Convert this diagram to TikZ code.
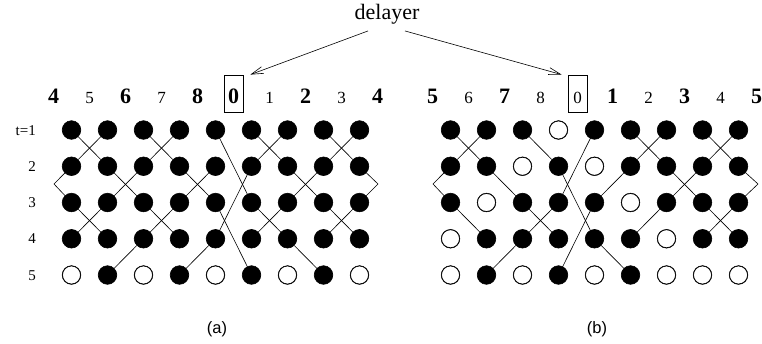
\documentclass[tikz,border=0pt]{standalone}
\usepackage{fontspec}
\setmainfont{Liberation Serif}
\setsansfont{Liberation Sans}
\usetikzlibrary{arrows.meta}
\begin{document}
\begin{tikzpicture}[x=1pt,y=-1pt,
  dot/.style={circle,fill=black,draw=black,line width=0.6pt,minimum size=18.6pt,inner sep=0},
  odot/.style={circle,fill=white,draw=black,line width=0.7pt,minimum size=18pt,inner sep=0},
  link/.style={line width=0.6pt},
  num/.style={font=\fontsize{17}{17}\selectfont,anchor=base,inner sep=0},
  bnum/.style={font=\fontsize{22}{22}\selectfont\bfseries,anchor=base,inner sep=0},
  numbox/.style={draw,line width=0.8pt,text height=28pt,text depth=9pt,minimum width=19pt},
  rowlab/.style={font=\fontsize{15}{15}\selectfont,anchor=base east,inner sep=0},
  sublabel/.style={font=\sffamily\fontsize{16.5}{16.5}\selectfont,anchor=base,inner sep=0},
  arr/.style={line width=0.6pt,-{Straight Barb[length=12pt,width=7pt]}}
]
\clip (0,0) rectangle (762,343);
\fill[white] (0,0) rectangle (762,343);

% grid nodes
\foreach \r in {1,...,5}{
  \foreach \c in {1,...,9}{
    \node[dot] (a\r\c) at ({71.5+36*(\c-1)},{130+36.25*(\r-1)}) {};
    \node[dot] (b\r\c) at ({450.5+36*(\c-1)},{130+36.25*(\r-1)}) {};
  }
}
% open circles
\foreach \n in {a51,a53,a55,a57,a59,b14,b23,b25,b32,b36,b41,b47,b51,b53,b55,b57,b58,b59}
  \node[odot] (\n) at (\n) {};

% connectors (a)
\foreach \u/\v in {a11/a22,a12/a21,a13/a24,a14/a23,a15/a36,a16/a27,a17/a26,a18/a29,a19/a28,
  a22/a33,a23/a32,a24/a35,a25/a34,a26/a45,a27/a38,a28/a37,
  a31/a42,a32/a41,a33/a44,a34/a43,a35/a56,a36/a47,a37/a46,a38/a49,a39/a48,
  a43/a52,a45/a54,a47/a58}
  \draw[link] (\u) -- (\v);
\coordinate (aL) at (54,184);
\coordinate (aR) at (378,184);
\draw[link] (a21) -- (aL) -- (a31);
\draw[link] (a29) -- (aR) -- (a39);

% connectors (b)
\foreach \u/\v in {b11/b22,b12/b21,b13/b24,b15/b34,b16/b27,b17/b26,b18/b29,b19/b28,
  b22/b33,b24/b45,b26/b35,b27/b38,b28/b37,
  b31/b42,b33/b44,b34/b43,b35/b54,b37/b46,b38/b49,b39/b48,
  b43/b52,b45/b56}
  \draw[link] (\u) -- (\v);
\coordinate (bL) at (433,184);
\coordinate (bR) at (758,184);
\draw[link] (b21) -- (bL) -- (b31);
\draw[link] (b29) -- (bR) -- (b39);

% column numbers (a)
\foreach \k/\t/\s in {0/4/bnum,1/5/num,2/6/bnum,3/7/num,4/8/bnum,6/1/num,7/2/bnum,8/3/num,9/4/bnum}
  \node[\s] (na\k) at ({53.5+36*\k},103) {\t};
\node[bnum,numbox] (na5) at (233.5,103) {0};
% column numbers (b)
\foreach \k/\t/\s in {0/5/bnum,1/6/num,2/7/bnum,3/8/num,5/1/bnum,6/2/num,7/3/bnum,8/4/num,9/5/bnum}
  \node[\s] (nb\k) at ({432.5+36*\k},103) {\t};
\node[num,numbox] (nb4) at (577.5,103) {0};

% row labels
\node[rowlab] (t1) at (36,135) {t=1};
\node[rowlab] (t2) at (36,171.25) {2};
\node[rowlab] (t3) at (36,207.5) {3};
\node[rowlab] (t4) at (36,243.75) {4};
\node[rowlab] (t5) at (36,280) {5};

% delayer
\node[font=\fontsize{22}{22}\selectfont,anchor=base,inner sep=0] (delayer) at (387,19) {delayer};
\draw[arr] ([xshift=-19pt,yshift=-7pt]delayer.south) -- ([xshift=7pt]na5.north east);
\draw[arr] ([xshift=18pt,yshift=-7pt]delayer.south) -- ([xshift=-6pt]nb4.north west);

% sub-labels
\node[sublabel] (capa) at (217,333) {(a)};
\node[sublabel] (capb) at (597,333) {(b)};
\end{tikzpicture}
\end{document}
